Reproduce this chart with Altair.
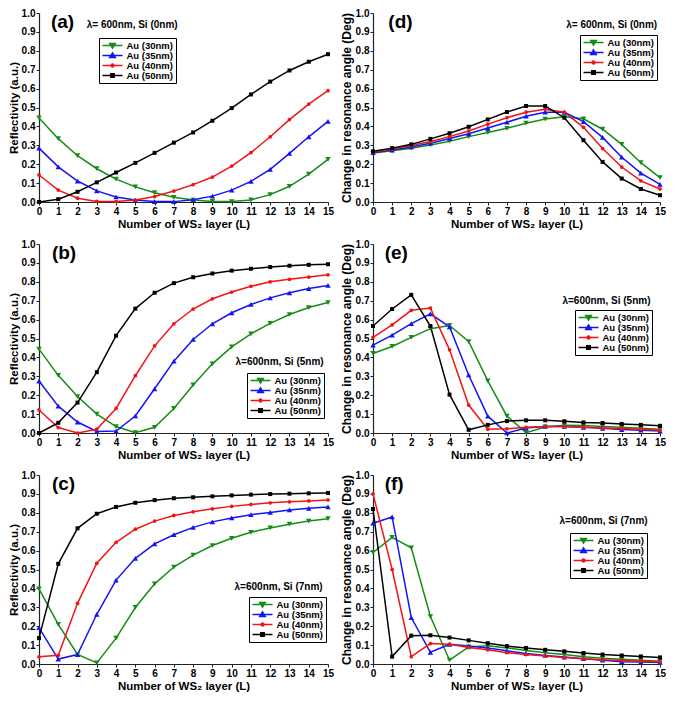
import altair as alt
import pandas as pd

FONT = "Liberation Sans"

layers = list(range(16))
y_ticks = [round(i * 0.1, 1) for i in range(11)]
series = ["Au (30nm)", "Au (35nm)", "Au (40nm)", "Au (50nm)"]
colors = ["#168c16", "#1414f5", "#f21414", "#000000"]
point_shapes = ["triangle-down", "triangle-up", "circle", "square"]
point_sizes = [30, 30, 14, 16]
# legend glyphs: a line through a marker (nested outlines so the stroke fills the marker)
legend_paths = [
    "M-1,0H1M-0.28,-0.21H0.28L0,0.26ZM-0.14,-0.12H0.14L0,0.11ZM-0.04,-0.06H0.04L0,0.02Z",
    "M-1,0H1M-0.28,0.21H0.28L0,-0.26ZM-0.14,0.12H0.14L0,-0.11ZM-0.04,0.06H0.04L0,-0.02Z",
    "M-1,0H1M-0.15,0A0.15,0.15 0 1,0 0.15,0A0.15,0.15 0 1,0 -0.15,0ZM-0.05,0A0.05,0.05 0 1,0 0.05,0A0.05,0.05 0 1,0 -0.05,0Z",
    "M-1,0H1M-0.17,-0.17H0.17V0.17H-0.17ZM-0.06,-0.06H0.06V0.06H-0.06Z",
]
x_title = "Number of WS\u2082 layer (L)"

# ---- (a) Reflectivity, Si (0nm)
a_30 = [0.445, 0.335, 0.245, 0.176, 0.121, 0.080, 0.049, 0.025, 0.010, 0.003, 0.002, 0.011, 0.039, 0.083, 0.147, 0.226]
a_35 = [0.285, 0.186, 0.111, 0.059, 0.027, 0.010, 0.002, 0.002, 0.012, 0.031, 0.063, 0.109, 0.173, 0.257, 0.345, 0.427]
a_40 = [0.143, 0.063, 0.020, 0.003, 0.002, 0.010, 0.029, 0.058, 0.092, 0.132, 0.190, 0.261, 0.345, 0.436, 0.518, 0.589]
a_50 = [0.000, 0.015, 0.054, 0.104, 0.156, 0.207, 0.260, 0.314, 0.368, 0.430, 0.497, 0.569, 0.637, 0.696, 0.742, 0.782]

# ---- (d) Change in resonance angle, Si (0nm)
d_30 = [0.259, 0.271, 0.285, 0.302, 0.322, 0.346, 0.368, 0.390, 0.417, 0.439, 0.451, 0.440, 0.385, 0.305, 0.208, 0.129]
d_35 = [0.261, 0.275, 0.291, 0.311, 0.336, 0.361, 0.392, 0.422, 0.454, 0.475, 0.475, 0.425, 0.342, 0.237, 0.153, 0.093]
d_40 = [0.265, 0.280, 0.299, 0.320, 0.346, 0.376, 0.412, 0.446, 0.475, 0.491, 0.475, 0.395, 0.283, 0.185, 0.112, 0.069]
d_50 = [0.268, 0.285, 0.305, 0.334, 0.364, 0.398, 0.437, 0.476, 0.508, 0.508, 0.446, 0.327, 0.212, 0.124, 0.069, 0.036]

# ---- (b) Reflectivity, Si (5nm)
b_30 = [0.444, 0.305, 0.193, 0.100, 0.034, 0.002, 0.030, 0.130, 0.254, 0.366, 0.456, 0.525, 0.580, 0.627, 0.664, 0.690]
b_35 = [0.275, 0.142, 0.058, 0.008, 0.010, 0.090, 0.234, 0.380, 0.495, 0.578, 0.636, 0.680, 0.715, 0.742, 0.764, 0.781]
b_40 = [0.122, 0.029, 0.000, 0.020, 0.130, 0.303, 0.461, 0.578, 0.656, 0.710, 0.746, 0.776, 0.800, 0.813, 0.825, 0.837]
b_50 = [0.000, 0.054, 0.161, 0.322, 0.515, 0.658, 0.742, 0.793, 0.824, 0.844, 0.859, 0.869, 0.878, 0.885, 0.890, 0.893]

# ---- (e) Change in resonance angle, Si (5nm)
e_30 = [0.421, 0.458, 0.506, 0.552, 0.569, 0.484, 0.276, 0.089, 0.002, 0.032, 0.041, 0.040, 0.035, 0.030, 0.025, 0.020]
e_35 = [0.465, 0.518, 0.579, 0.630, 0.562, 0.307, 0.089, 0.000, 0.026, 0.035, 0.035, 0.030, 0.025, 0.018, 0.015, 0.010]
e_40 = [0.506, 0.572, 0.649, 0.661, 0.440, 0.148, 0.020, 0.022, 0.030, 0.035, 0.035, 0.030, 0.027, 0.024, 0.020, 0.015]
e_50 = [0.566, 0.656, 0.731, 0.566, 0.203, 0.017, 0.043, 0.063, 0.067, 0.067, 0.062, 0.056, 0.053, 0.048, 0.043, 0.038]

# ---- (c) Reflectivity, Si (7nm)
c_30 = [0.398, 0.210, 0.051, 0.006, 0.137, 0.299, 0.424, 0.513, 0.576, 0.627, 0.665, 0.697, 0.720, 0.740, 0.756, 0.769]
c_35 = [0.193, 0.026, 0.050, 0.263, 0.444, 0.559, 0.636, 0.684, 0.723, 0.752, 0.773, 0.790, 0.802, 0.815, 0.824, 0.831]
c_40 = [0.038, 0.046, 0.321, 0.533, 0.644, 0.713, 0.756, 0.786, 0.805, 0.821, 0.834, 0.844, 0.853, 0.858, 0.863, 0.868]
c_50 = [0.137, 0.530, 0.718, 0.795, 0.831, 0.853, 0.867, 0.877, 0.882, 0.887, 0.892, 0.896, 0.899, 0.901, 0.903, 0.905]

# ---- (f) Change in resonance angle, Si (7nm)
f_30 = [0.590, 0.670, 0.615, 0.251, 0.020, 0.090, 0.097, 0.085, 0.071, 0.060, 0.050, 0.038, 0.030, 0.025, 0.020, 0.015]
f_35 = [0.745, 0.778, 0.246, 0.062, 0.104, 0.095, 0.085, 0.070, 0.055, 0.045, 0.037, 0.028, 0.020, 0.012, 0.010, 0.008]
f_40 = [0.900, 0.500, 0.039, 0.108, 0.105, 0.087, 0.075, 0.060, 0.050, 0.042, 0.035, 0.028, 0.022, 0.018, 0.015, 0.012]
f_50 = [0.820, 0.039, 0.150, 0.152, 0.140, 0.125, 0.110, 0.095, 0.085, 0.075, 0.067, 0.058, 0.050, 0.045, 0.040, 0.035]

# annotation texts and anchors (data units), panel labels, legend position (fraction of plot)
panels = {
    "a": dict(ylab="Reflectivity (a.u.)", vals=[a_30, a_35, a_40, a_50],
              note="\u03bb= 600nm, Si (0nm)", note_xy=(2.48, 0.939), lab_xy=(0.62, 0.955), leg=(0.207, 0.133)),
    "d": dict(ylab="Change in resonance angle (Deg)", vals=[d_30, d_35, d_40, d_50],
              note="\u03bb= 600nm, Si (0nm)", note_xy=(10.1, 0.939), lab_xy=(0.8, 0.955), leg=(0.72, 0.117)),
    "b": dict(ylab="Reflectivity (a.u.)", vals=[b_30, b_35, b_40, b_50],
              note="\u03bb=600nm, Si (5nm)", note_xy=(10.2, 0.376), lab_xy=(0.67, 0.955), leg=(0.72, 0.68)),
    "e": dict(ylab="Change in resonance angle (Deg)", vals=[e_30, e_35, e_40, e_50],
              note="\u03bb=600nm, Si (5nm)", note_xy=(9.9, 0.699), lab_xy=(0.61, 0.955), leg=(0.703, 0.347)),
    "c": dict(ylab="Reflectivity (a.u.)", vals=[c_30, c_35, c_40, c_50],
              note="\u03bb=600nm, Si (7nm)", note_xy=(10.15, 0.405), lab_xy=(0.67, 0.955), leg=(0.727, 0.646)),
    "f": dict(ylab="Change in resonance angle (Deg)", vals=[f_30, f_35, f_40, f_50],
              note="\u03bb=600nm, Si (7nm)", note_xy=(9.75, 0.754), lab_xy=(0.61, 0.955), leg=(0.687, 0.308)),
}

H = 189
IND = dict(fill="independent", stroke="independent", shape="independent")


def panel(key, W, ytitle_size):
    p = panels[key]
    df = pd.DataFrame({
        "L": layers * 4,
        "value": [v for s in p["vals"] for v in s],
        "series": [s for s in series for _ in layers],
    })
    xs = alt.Scale(domain=[0, 15], nice=False, zero=False)
    ys = alt.Scale(domain=[0, 1], nice=False)
    xenc = alt.X("L:Q", scale=xs, axis=alt.Axis(title=x_title, values=layers, format="d",
                                                labelFlush=False, grid=False))
    yenc = alt.Y("value:Q", scale=ys, axis=alt.Axis(title=p["ylab"], values=y_ticks, format=".1f",
                                                    grid=False, titleFontSize=ytitle_size))
    base = alt.Chart(df)
    ls = []
    for s, c in zip(series, colors):
        ls.append(base.transform_filter(alt.datum.series == s)
                  .mark_line(strokeWidth=1.5, color=c).encode(x=xenc, y=yenc))
    for s, c, sh, sz in zip(series, colors, point_shapes, point_sizes):
        ls.append(base.transform_filter(alt.datum.series == s)
                  .mark_point(shape=sh, filled=True, size=sz, color=c, opacity=1)
                  .encode(x=xenc, y=yenc))
    leg = alt.Legend(title=None, orient="none", symbolSize=400, clipHeight=10,
                     legendX=round(p["leg"][0] * W), legendY=round(p["leg"][1] * H))
    ls.append(base.mark_point(filled=True, opacity=0).encode(
        x=xenc, y=yenc,
        fill=alt.Fill("series:N", scale=alt.Scale(domain=series, range=colors), legend=leg),
        stroke=alt.Stroke("series:N", scale=alt.Scale(domain=series, range=colors), legend=leg),
        shape=alt.Shape("series:N", scale=alt.Scale(domain=series, range=legend_paths), legend=leg),
    ))
    note_df = pd.DataFrame({"L": [p["note_xy"][0]], "value": [p["note_xy"][1]], "t": [p["note"]]})
    ls.append(alt.Chart(note_df).mark_text(align="left", baseline="middle", font=FONT, fontSize=10,
                                           fontWeight="bold", color="black").encode(x=xenc, y=yenc, text="t:N"))
    lab_df = pd.DataFrame({"L": [p["lab_xy"][0]], "value": [p["lab_xy"][1]], "t": ["(" + key + ")"]})
    ls.append(alt.Chart(lab_df).mark_text(align="left", baseline="middle", font=FONT, fontSize=19,
                                          fontWeight="bold", color="black").encode(x=xenc, y=yenc, text="t:N"))
    return alt.layer(*ls).properties(width=W, height=H)


WL, WR = 289, 287
rows = []
for left, right in [("a", "d"), ("b", "e"), ("c", "f")]:
    rows.append(
        alt.hconcat(panel(left, WL, 11.5), panel(right, WR, 12), spacing=6)
        .resolve_scale(**IND).resolve_legend(**IND)
    )

chart = alt.vconcat(*rows, spacing=9).resolve_scale(**IND).resolve_legend(**IND).properties(
    padding={"left": 0, "top": 0, "right": 0, "bottom": 0}
).configure_view(stroke=None).configure_axis(
    labelFont=FONT, labelFontSize=10, labelFontWeight="bold", labelColor="black",
    titleFont=FONT, titleFontSize=11.5, titleFontWeight="bold", titleColor="black",
    domainColor="#222222", domainWidth=1.2, tickColor="#222222", tickSize=3,
    labelPadding=1, titlePadding=2,
).configure_legend(
    padding=2.5, rowPadding=0, symbolStrokeWidth=1.5,
    labelFont=FONT, labelFontSize=9.5, labelFontWeight="bold", labelColor="black",
    labelOffset=3, strokeColor="black", cornerRadius=0,
)

chart.save("out.html", embed_options={"renderer": "svg", "actions": False})
